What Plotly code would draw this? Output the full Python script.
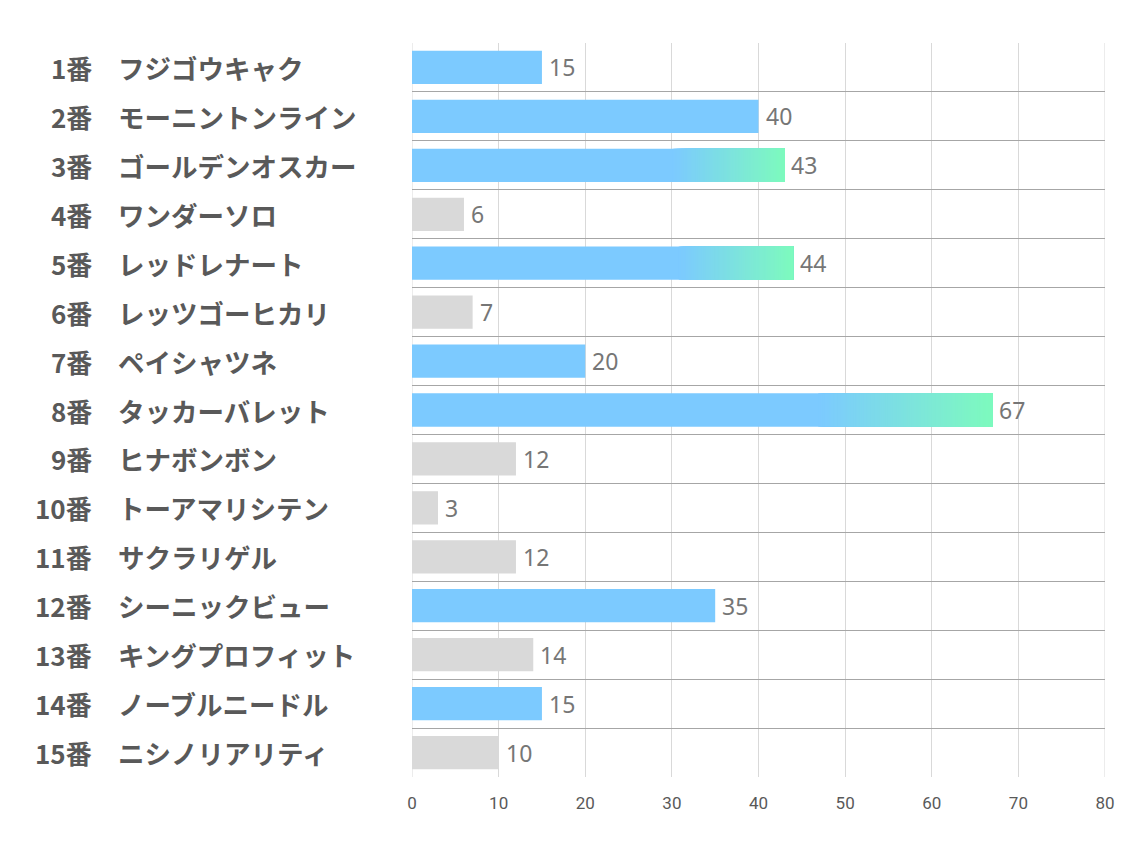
import plotly.graph_objects as go

numbers = ["1番", "2番", "3番", "4番", "5番", "6番", "7番", "8番", "9番", "10番",
           "11番", "12番", "13番", "14番", "15番"]
names = ["フジゴウキャク", "モーニントンライン", "ゴールデンオスカー", "ワンダーソロ", "レッドレナート",
         "レッツゴーヒカリ", "ペイシャツネ", "タッカーバレット", "ヒナボンボン", "トーアマリシテン",
         "サクラリゲル", "シーニックビュー", "キングプロフィット", "ノーブルニードル", "ニシノリアリティ"]
values = [15, 40, 43, 6, 44, 7, 20, 67, 12, 3, 12, 35, 14, 15, 10]
kinds = ["blue", "blue", "grad", "gray", "grad", "gray", "blue", "grad", "gray", "gray",
         "gray", "blue", "gray", "blue", "gray"]
x_ticks = [0, 10, 20, 30, 40, 50, 60, 70, 80]

BLUE = (124, 202, 255)
GREEN = (125, 250, 190)
GRAY = "#D9D9D9"
GRAD_START = 0.70
N_SEG = 80

rows = list(range(len(values)))

fig = go.Figure()

base_colors = [GRAY if k == "gray" else "rgb(%d,%d,%d)" % BLUE for k in kinds]
fig.add_trace(go.Bar(x=values, y=rows, orientation="h", width=0.68,
                     marker=dict(color=base_colors, line=dict(width=0)),
                     hoverinfo="skip", showlegend=False))

# gradient overlay: each segment runs to the bar end, later ones cover earlier ones
seg_y, seg_base, seg_x, seg_col = [], [], [], []
for r, v, k in zip(rows, values, kinds):
    if k != "grad":
        continue
    start = v * GRAD_START
    step = (v - start) / N_SEG
    for i in range(N_SEG):
        t = i / (N_SEG - 1)
        c = tuple(round(BLUE[j] + (GREEN[j] - BLUE[j]) * t) for j in range(3))
        b = start + i * step
        seg_y.append(r)
        seg_base.append(b)
        seg_x.append(v - b)
        seg_col.append("rgb(%d,%d,%d)" % c)

fig.add_trace(go.Bar(x=seg_x, y=seg_y, base=seg_base, orientation="h", width=0.68,
                     marker=dict(color=seg_col, line=dict(width=0)),
                     hoverinfo="skip", showlegend=False))

# value labels
for r, v in zip(rows, values):
    fig.add_annotation(x=v, y=r, xref="x", yref="y", text=str(v), showarrow=False,
                       xanchor="left", yanchor="middle", xshift=5,
                       font=dict(family="Noto Sans", size=23, color="#767676"))

# row labels
for r, n, nm in zip(rows, numbers, names):
    fig.add_annotation(x=-0.4589, y=r, xref="paper", yref="y", text=n, showarrow=False,
                       xanchor="right", yanchor="middle",
                       font=dict(family="Noto Sans CJK JP", size=26, color="#595959", weight="bold"))
    fig.add_annotation(x=-0.4271, y=r, xref="paper", yref="y", text=nm, showarrow=False,
                       xanchor="left", yanchor="middle",
                       font=dict(family="Noto Sans CJK JP", size=26.5, color="#595959", weight="bold"))

fig.update_layout(
    width=1134, height=850,
    margin=dict(l=404, r=37, t=35, b=81),
    plot_bgcolor="white", paper_bgcolor="white",
    barmode="overlay",
    xaxis=dict(range=[0, 80], tickvals=x_ticks, ticktext=[str(t) for t in x_ticks],
               showgrid=True, gridcolor="#D9D9D9", gridwidth=1,
               zeroline=False, showline=False, ticks="", ticklabelstandoff=14,
               tickfont=dict(family="Roboto", size=17, color="#595959"),
               fixedrange=True),
    yaxis=dict(range=[len(values) - 0.5, -0.5], tickmode="linear", tick0=-0.5, dtick=1,
               showticklabels=False, showgrid=True, gridcolor="#A6A6A6", gridwidth=1,
               zeroline=False, showline=False, ticks="", fixedrange=True),
)

fig.add_shape(type="line", xref="x", yref="paper", x0=0, x1=0, y0=0, y1=1,
              line=dict(color="#D9D9D9", width=1), layer="below")
fig.add_shape(type="line", xref="x", yref="paper", x0=80, x1=80, y0=0, y1=1,
              line=dict(color="#D9D9D9", width=1), layer="below")

fig.write_html("out.html")
